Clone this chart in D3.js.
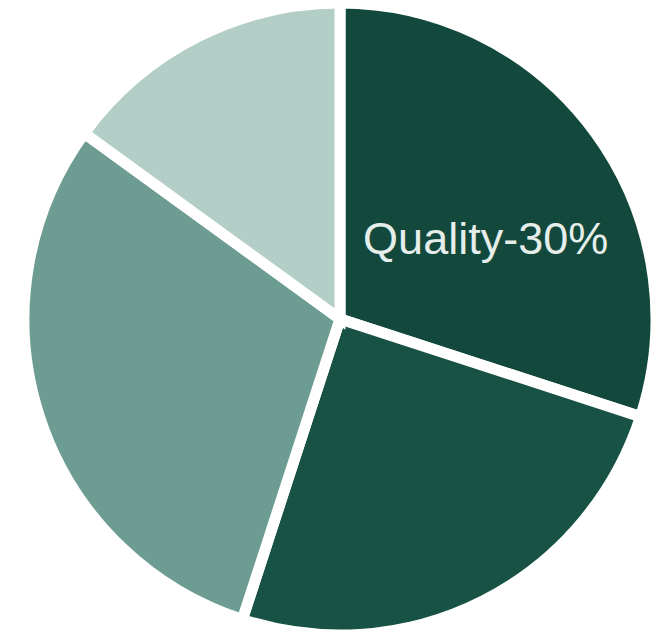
<!DOCTYPE html>
<html>
<head>
<meta charset="utf-8">
<script src="https://cdn.jsdelivr.net/npm/d3@7"></script>
<style>
  html, body { margin: 0; padding: 0; background: #fff; }
  svg { display: block; }
</style>
</head>
<body>
<svg id="chart" width="656" height="633"></svg>
<script>
// slices, clockwise from 12 o'clock
const categories = ['Quality', 'Cost', 'Delivery', 'Service']
const shares = [30, 25, 30, 15]
const sliceColors = ['#13493c', '#175244', '#6d9d92', '#b2cec7']
const shownLabels = ['Quality-30%', '', '', '']

const width = 656, height = 633
const cx = 340, cy = 319
const radius = 316

const svg = d3.select('#chart')
const g = svg.append('g').attr('transform', `translate(${cx},${cy})`)

const pie = d3.pie().sort(null).value(d => d)
const arc = d3.arc().innerRadius(0).outerRadius(radius)
const labelArc = d3.arc().innerRadius(165).outerRadius(165)

const slices = pie(shares)

g.selectAll('path')
.data(slices)
.enter()
.append('path')
.attr('d', arc)
.attr('fill', (d, i) => sliceColors[i])
.attr('stroke', '#fff')
.attr('stroke-width', 11)
.attr('stroke-linejoin', 'miter')

g.selectAll('text')
.data(slices)
.enter()
.append('text')
.attr('transform', d => `translate(${labelArc.centroid(d)})`)
.attr('dx', '0.27em')
.attr('dy', '0.72em')
.attr('text-anchor', 'middle')
.attr('font-family', 'Liberation Sans, Arial, sans-serif')
.attr('font-size', 45)
.attr('fill', '#e6eeeb')
.text((d, i) => shownLabels[i])
</script>
</body>
</html>
